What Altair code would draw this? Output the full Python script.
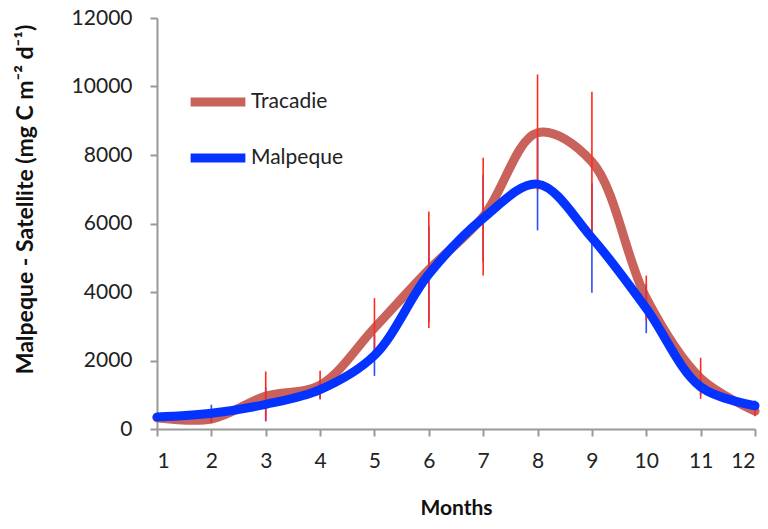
import altair as alt
import pandas as pd

months = list(range(1, 13))
series_names = ["Tracadie", "Malpeque"]
tracadie = [330, 290, 960, 1280, 2950, 4650, 6200, 8650, 7800, 3820, 1480, 520]
tracadie_err = [80, 120, 720, 420, 870, 1700, 1720, 1700, 2050, 660, 600, 150]
malpeque = [350, 460, 720, 1150, 2150, 4520, 6150, 7150, 5580, 3520, 1230, 680]
malpeque_err = [60, 250, 500, 260, 600, 1400, 1270, 1350, 1600, 720, 240, 150]
y_ticks = [0, 2000, 4000, 6000, 8000, 10000, 12000]

line_colors = ["#C8625A", "#0433FF"]
err_colors = {"Tracadie": "#FF2A1A", "Malpeque": "#2B4BFF"}

rows = []
for name, vals, errs in [("Tracadie", tracadie, tracadie_err), ("Malpeque", malpeque, malpeque_err)]:
    for m, v, e in zip(months, vals, errs):
        rows.append({"month": m, "series": name, "value": v, "err": e})
df = pd.DataFrame(rows)

ytitle = "Malpeque - Satellite (mg C m\u207b\u00b2 d\u207b\u00b9)"
xscale = alt.Scale(domain=[1, 12], nice=False, zero=False)
yscale = alt.Scale(domain=[0, 12000], nice=False)
xaxis = alt.Axis(values=months, title="Months", labelPadding=14, titleY=68, titleBaseline="top",
                 labelFontSize=21, titleFontSize=21)
yaxis = alt.Axis(values=y_ticks, format="d", title=ytitle, labelPadding=18, titleX=-120, titleY=181,
                 titleBaseline="bottom", titleFontSize=23, titleLimit=1000, labelFontSize=21)

x = alt.X("month:Q", scale=xscale, axis=xaxis)

color = alt.Color("series:N", scale=alt.Scale(domain=series_names, range=line_colors),
                  legend=alt.Legend(title=None, orient="none", legendX=29, legendY=52,
                                    symbolType="stroke", symbolStrokeWidth=9, symbolSize=3000,
                                    labelFont="Lato", labelFontSize=21, labelColor="#222",
                                    labelOffset=1, padding=0, rowPadding=6))

base = alt.Chart(df)

def line_layer(name):
    return base.transform_filter(alt.datum.series == name).mark_line(
        strokeWidth=9, interpolate="catmull-rom", strokeCap="round"
    ).encode(x=x, y=alt.Y("value:Q", scale=yscale, axis=yaxis), color=color)

def err_layer(name):
    return base.transform_filter(alt.datum.series == name).transform_calculate(
        lo="datum.value - datum.err", hi="datum.value + datum.err"
    ).mark_rule(strokeWidth=1.6, color=err_colors[name]).encode(
        x=x, y=alt.Y("lo:Q", scale=yscale, axis=yaxis), y2="hi:Q"
    )

chart = alt.layer(
    line_layer("Tracadie"),
    err_layer("Malpeque"),
    err_layer("Tracadie"),
    line_layer("Malpeque"),
).properties(
    width=598, height=411,
    autosize=alt.AutoSizeParams(type="none"),
    padding={"left": 149, "top": 10, "right": 5, "bottom": 92},
).configure_view(stroke=None).configure_axis(
    grid=False, domainColor="#999", domainWidth=2, tickColor="#999", tickWidth=2, tickSize=7,
    labelFont="Lato", labelColor="#222",
    titleFont="Lato", titleFontWeight="bold", titleColor="#111",
)

chart.save("out.html", embed_options={"renderer": "svg", "actions": False})
